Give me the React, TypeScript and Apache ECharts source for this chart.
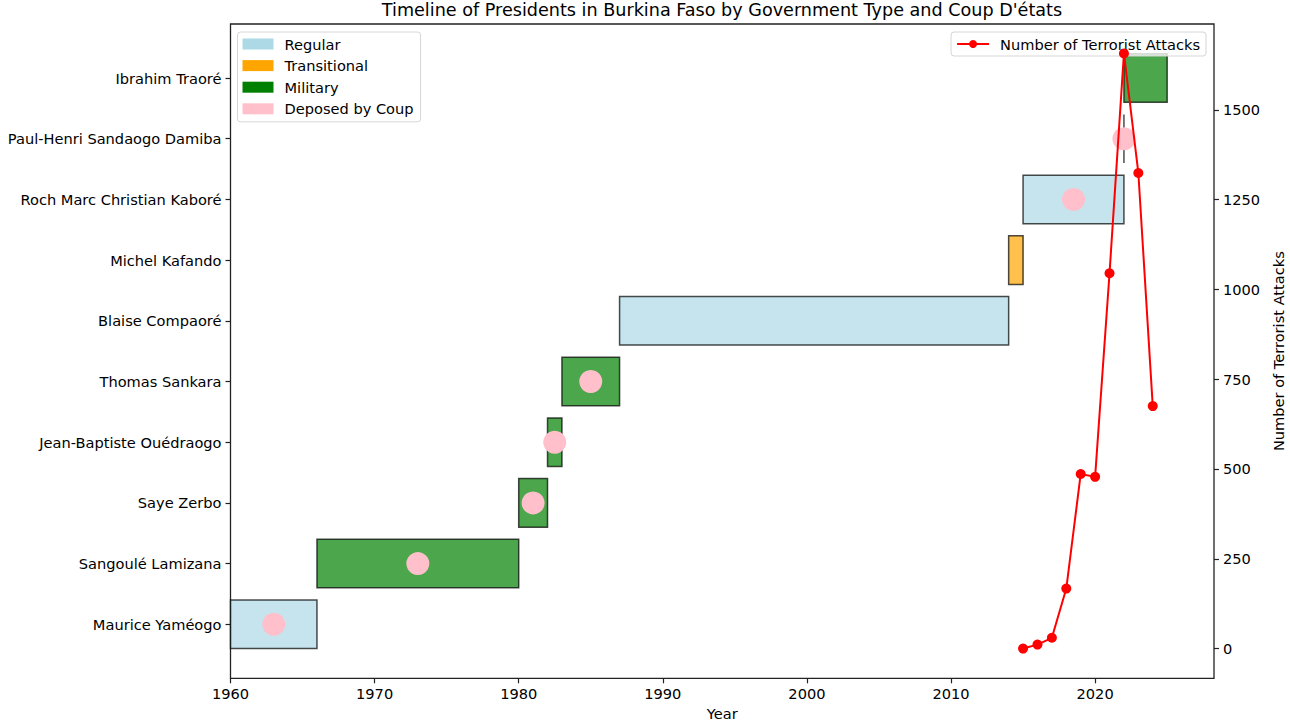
import React, { useEffect, useRef } from "react";
import * as echarts from "echarts";

const presidents = [
  "Maurice Yaméogo",
  "Sangoulé Lamizana",
  "Saye Zerbo",
  "Jean-Baptiste Ouédraogo",
  "Thomas Sankara",
  "Blaise Compaoré",
  "Michel Kafando",
  "Roch Marc Christian Kaboré",
  "Paul-Henri Sandaogo Damiba",
  "Ibrahim Traoré",
];
const startYears = [1960, 1966, 1980, 1982, 1983, 1987, 2014, 2015, 2022, 2022];
const endYears = [1966, 1980, 1982, 1983, 1987, 2014, 2015, 2022, 2022, 2025];
const govTypes = [
  "Regular",
  "Military",
  "Military",
  "Military",
  "Military",
  "Regular",
  "Transitional",
  "Regular",
  "Military",
  "Military",
];
const deposedByCoup = [true, true, true, true, true, false, false, true, true, false];

const attackYears = [2015, 2016, 2017, 2018, 2019, 2020, 2021, 2022, 2023, 2024];
const attacks = [0, 11, 30, 167, 486, 478, 1045, 1657, 1324, 675];

const typeNames = ["Regular", "Transitional", "Military"];
const typeColors: Record<string, string> = {
  Regular: "#ADD8E6",
  Transitional: "#FFA500",
  Military: "#008000",
};
const coupColor = "#FFC0CB";
const xTicks = [1960, 1970, 1980, 1990, 2000, 2010, 2020];
const rightTicks = [0, 250, 500, 750, 1000, 1250, 1500];

const FONT = "DejaVu Sans";
const FS = 14.6;

export default function App() {
  const ref = useRef<HTMLDivElement>(null);
  useEffect(() => {
    document.body.style.margin = "0";
    if (!ref.current) return;
    const chart = echarts.init(ref.current, undefined, { renderer: "svg" });

    const barSeries = typeNames.map((t) => {
      const color = typeColors[t];
      const data: number[][] = [];
      presidents.forEach((_, i) => {
        if (govTypes[i] === t) data.push([startYears[i], endYears[i], i]);
      });
      return {
        type: "custom",
        name: t,
        xAxisIndex: 0,
        yAxisIndex: 0,
        z: 2,
        itemStyle: { color },
        encode: { x: [0, 1], y: 2 },
        data,
        renderItem: (params: any, api: any) => {
          const s = api.coord([api.value(0), api.value(2)]);
          const e = api.coord([api.value(1), api.value(2)]);
          const h = api.size([0, 0.8])[1];
          return {
            type: "polygon",
            shape: {
              points: [
                [s[0], s[1] - h / 2],
                [e[0], s[1] - h / 2],
                [e[0], s[1] + h / 2],
                [s[0], s[1] + h / 2],
              ],
            },
            style: { fill: color, stroke: "#000", lineWidth: 1.5, opacity: 0.7 },
          };
        },
      };
    });

    const coupData: number[][] = [];
    presidents.forEach((_, i) => {
      if (deposedByCoup[i]) coupData.push([(startYears[i] + endYears[i]) / 2, i]);
    });

    const option: any = {
      animation: false,
      textStyle: { fontFamily: FONT },
      title: {
        text: "Timeline of Presidents in Burkina Faso by Government Type and Coup D'états",
        left: 722,
        top: 1,
        textAlign: "center",
        padding: 0,
        textStyle: { fontFamily: FONT, fontSize: 17.6, fontWeight: "normal", color: "#000" },
      },
      grid: {
        left: 230.5,
        right: 76,
        top: 24,
        bottom: 47.7,
        outerBoundsMode: "none",
        containLabel: false,
        show: true,
        borderColor: "#222",
        borderWidth: 1.3,
        backgroundColor: "transparent",
      },
      legend: [
        {
          orient: "vertical",
          left: 237.5,
          top: 32,
          selectedMode: false,
          itemWidth: 31,
          itemHeight: 11,
          itemGap: 5.6,
          padding: [4, 7, 5, 5],
          backgroundColor: "rgba(255,255,255,0.8)",
          borderColor: "#d6d6d6",
          borderWidth: 1,
          borderRadius: 3,
          textStyle: { fontFamily: FONT, fontSize: FS, color: "#000", lineHeight: 16, padding: [0, 0, 0, 6] },
          data: [
            ...typeNames.map((t) => ({
              name: t,
              icon: "rect",
              itemStyle: { color: typeColors[t], opacity: 1, borderWidth: 0 },
            })),
            { name: "Deposed by Coup", icon: "rect", itemStyle: { color: coupColor, opacity: 1, borderWidth: 0 } },
          ],
        },
        {
          orient: "vertical",
          right: 84,
          top: 32,
          selectedMode: false,
          itemWidth: 32,
          itemHeight: 10,
          padding: [4, 6, 4, 5],
          backgroundColor: "rgba(255,255,255,0.8)",
          borderColor: "#d6d6d6",
          borderWidth: 1,
          borderRadius: 3,
          textStyle: { fontFamily: FONT, fontSize: FS, color: "#000", lineHeight: 16, padding: [0, 0, 0, 6] },
          data: ["Number of Terrorist Attacks"],
        },
      ],
      xAxis: {
        type: "value",
        min: 1960,
        max: 2028.25,
        name: "Year",
        nameLocation: "middle",
        nameGap: 28,
        nameTextStyle: { fontFamily: FONT, fontSize: FS, color: "#000" },
        axisLine: { show: false, onZero: false },
        axisTick: { show: true, length: 5, customValues: xTicks, lineStyle: { color: "#222", width: 1.2 } },
        axisLabel: {
          customValues: xTicks,
          formatter: (v: number) => String(v),
          fontFamily: FONT,
          fontSize: FS,
          color: "#000",
          margin: 8,
        },
        splitLine: { show: false },
      },
      yAxis: [
        {
          type: "value",
          min: -0.89,
          max: 9.89,
          position: "left",
          axisLine: { show: false, onZero: false },
          axisTick: {
            show: true,
            length: 5,
            customValues: presidents.map((_, i) => i),
            lineStyle: { color: "#222", width: 1.2 },
          },
          axisLabel: {
            customValues: presidents.map((_, i) => i),
            formatter: (v: number) => presidents[Math.round(v)] ?? "",
            fontFamily: FONT,
            fontSize: FS,
            color: "#000",
            margin: 9,
          },
          splitLine: { show: false },
        },
        {
          type: "value",
          min: -82.8,
          max: 1738.8,
          position: "right",
          name: "Number of Terrorist Attacks",
          nameLocation: "middle",
          nameRotate: 90,
          nameGap: 54,
          nameTextStyle: { fontFamily: FONT, fontSize: FS, color: "#000" },
          axisLine: { show: false, onZero: false },
          axisTick: { show: true, length: 5, customValues: rightTicks, lineStyle: { color: "#222", width: 1.2 } },
          axisLabel: {
            customValues: rightTicks,
            formatter: (v: number) => String(v),
            fontFamily: FONT,
            fontSize: FS,
            color: "#000",
            margin: 9,
          },
          splitLine: { show: false },
        },
      ],
      series: [
        ...barSeries,
        {
          type: "scatter",
          name: "Deposed by Coup",
          xAxisIndex: 0,
          yAxisIndex: 0,
          z: 3,
          symbol: "circle",
          symbolSize: 23,
          itemStyle: { color: coupColor, opacity: 1 },
          data: coupData,
        },
        {
          type: "line",
          name: "Number of Terrorist Attacks",
          xAxisIndex: 0,
          yAxisIndex: 1,
          z: 4,
          symbol: "circle",
          symbolSize: 10,
          showAllSymbol: true,
          lineStyle: { color: "#FF0000", width: 2 },
          itemStyle: { color: "#FF0000" },
          data: attackYears.map((y, i) => [y, attacks[i]]),
        },
      ],
    };
    chart.setOption(option);
    return () => chart.dispose();
  }, []);
  return <div ref={ref} style={{ width: 1290, height: 726 }} />;
}
